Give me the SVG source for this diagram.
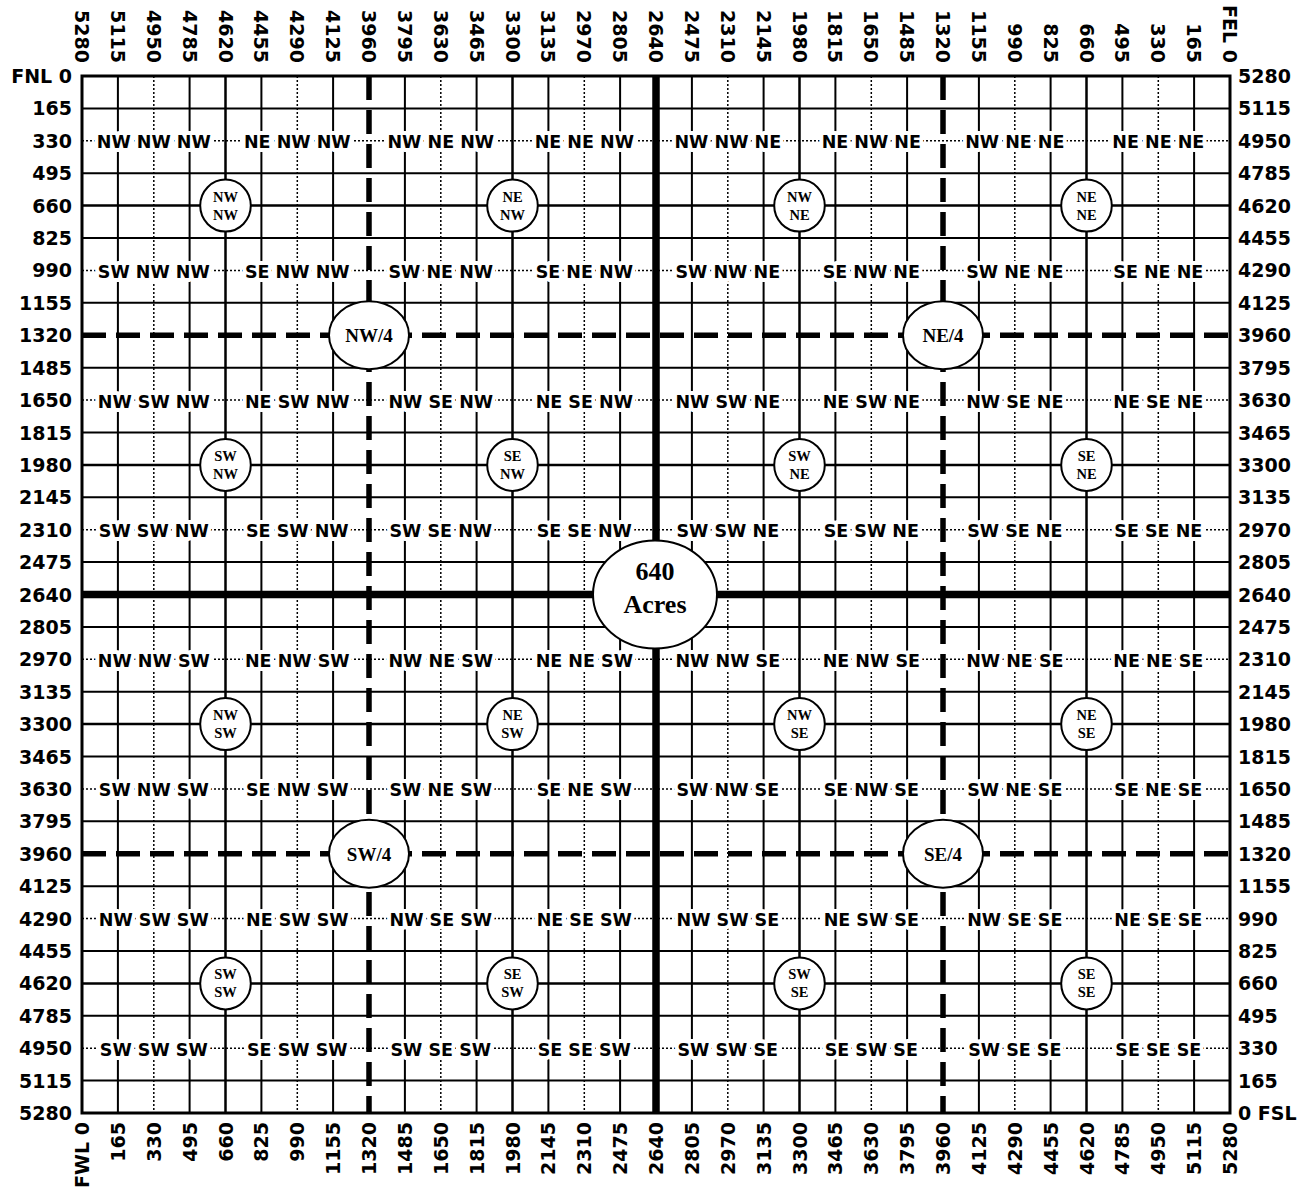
<svg xmlns="http://www.w3.org/2000/svg" width="1310" height="1193" viewBox="0 0 1310 1193">
<style>
.bg{fill:#fff}
.thin{stroke:#000;stroke-width:2;fill:none}
.dot{stroke:#000;stroke-width:1.5;stroke-dasharray:2 2;fill:none}
.qq{stroke:#000;stroke-width:2.5;fill:none}
.q{stroke:#000;stroke-width:5.5;stroke-dasharray:24 10;fill:none}
.c{stroke:#000;stroke-width:7.5;fill:none}
.border{stroke:#000;stroke-width:3;fill:none}
.ax{font-family:"DejaVu Sans",sans-serif;font-weight:bold;font-size:19px;fill:#000}
.top{text-anchor:end}
.bot{text-anchor:end}
.lft{text-anchor:end}
.rgt{text-anchor:start}
.lbl{font-family:"DejaVu Sans",sans-serif;font-weight:bold;font-size:17.5px;text-anchor:middle;fill:#000;stroke:#fff;stroke-width:8;stroke-linejoin:round;paint-order:stroke}
.node{fill:#fff;stroke:#000;stroke-width:2}
.nt{font-family:"Liberation Serif","Times New Roman",serif;font-weight:bold;font-size:14.5px;text-anchor:middle;fill:#000}
.qt{font-family:"Liberation Serif","Times New Roman",serif;font-weight:bold;font-size:19px;text-anchor:middle;fill:#000}
.ct{font-family:"Liberation Serif","Times New Roman",serif;font-weight:bold;font-size:26px;text-anchor:middle;fill:#000}
</style>
<rect class="bg" x="0" y="0" width="1310" height="1193"/>
<g id="grid">
<path class="thin" d="M117.9 76V1113M189.6 76V1113M261.4 76V1113M333.1 76V1113M404.9 76V1113M476.6 76V1113M548.4 76V1113M620.1 76V1113M691.9 76V1113M763.6 76V1113M835.4 76V1113M907.1 76V1113M978.9 76V1113M1050.6 76V1113M1122.4 76V1113M1194.1 76V1113"/>
<path class="thin" d="M82 108.4H1230M82 173.2H1230M82 238H1230M82 302.8H1230M82 367.7H1230M82 432.5H1230M82 497.3H1230M82 562.1H1230M82 626.9H1230M82 691.7H1230M82 756.5H1230M82 821.3H1230M82 886.2H1230M82 951H1230M82 1015.8H1230M82 1080.6H1230"/>
<path class="dot" d="M153.8 76V1113M297.3 76V1113M440.8 76V1113M584.3 76V1113M727.8 76V1113M871.3 76V1113M1014.8 76V1113M1158.3 76V1113"/>
<path class="dot" d="M82 140.8H1230M82 270.4H1230M82 400.1H1230M82 529.7H1230M82 659.3H1230M82 788.9H1230M82 918.6H1230M82 1048.2H1230"/>
<path class="qq" d="M225.5 76V1113M512.5 76V1113M799.5 76V1113M1086.5 76V1113M82 205.6H1230M82 464.9H1230M82 724.1H1230M82 983.4H1230"/>
<path class="q" d="M369 76V1113M943 76V1113M82 335.3H1230M82 853.8H1230"/>
<path class="c" d="M656 76V1113M82 594.5H1230"/>
<rect class="border" x="82" y="76" width="1148" height="1037"/>
</g>
<g id="top-labels" class="ax top">
<text transform="translate(75,63) rotate(90)">5280</text>
<text transform="translate(110.9,63) rotate(90)">5115</text>
<text transform="translate(146.8,63) rotate(90)">4950</text>
<text transform="translate(182.6,63) rotate(90)">4785</text>
<text transform="translate(218.5,63) rotate(90)">4620</text>
<text transform="translate(254.4,63) rotate(90)">4455</text>
<text transform="translate(290.3,63) rotate(90)">4290</text>
<text transform="translate(326.1,63) rotate(90)">4125</text>
<text transform="translate(362,63) rotate(90)">3960</text>
<text transform="translate(397.9,63) rotate(90)">3795</text>
<text transform="translate(433.8,63) rotate(90)">3630</text>
<text transform="translate(469.6,63) rotate(90)">3465</text>
<text transform="translate(505.5,63) rotate(90)">3300</text>
<text transform="translate(541.4,63) rotate(90)">3135</text>
<text transform="translate(577.3,63) rotate(90)">2970</text>
<text transform="translate(613.1,63) rotate(90)">2805</text>
<text transform="translate(649,63) rotate(90)">2640</text>
<text transform="translate(684.9,63) rotate(90)">2475</text>
<text transform="translate(720.8,63) rotate(90)">2310</text>
<text transform="translate(756.6,63) rotate(90)">2145</text>
<text transform="translate(792.5,63) rotate(90)">1980</text>
<text transform="translate(828.4,63) rotate(90)">1815</text>
<text transform="translate(864.3,63) rotate(90)">1650</text>
<text transform="translate(900.1,63) rotate(90)">1485</text>
<text transform="translate(936,63) rotate(90)">1320</text>
<text transform="translate(971.9,63) rotate(90)">1155</text>
<text transform="translate(1007.8,63) rotate(90)">990</text>
<text transform="translate(1043.6,63) rotate(90)">825</text>
<text transform="translate(1079.5,63) rotate(90)">660</text>
<text transform="translate(1115.4,63) rotate(90)">495</text>
<text transform="translate(1151.3,63) rotate(90)">330</text>
<text transform="translate(1187.1,63) rotate(90)">165</text>
<text transform="translate(1223,63) rotate(90)">FEL 0</text>
</g>
<g id="bottom-labels" class="ax bot">
<text transform="translate(89,1122) rotate(-90)">FWL 0</text>
<text transform="translate(124.9,1122) rotate(-90)">165</text>
<text transform="translate(160.8,1122) rotate(-90)">330</text>
<text transform="translate(196.6,1122) rotate(-90)">495</text>
<text transform="translate(232.5,1122) rotate(-90)">660</text>
<text transform="translate(268.4,1122) rotate(-90)">825</text>
<text transform="translate(304.3,1122) rotate(-90)">990</text>
<text transform="translate(340.1,1122) rotate(-90)">1155</text>
<text transform="translate(376,1122) rotate(-90)">1320</text>
<text transform="translate(411.9,1122) rotate(-90)">1485</text>
<text transform="translate(447.8,1122) rotate(-90)">1650</text>
<text transform="translate(483.6,1122) rotate(-90)">1815</text>
<text transform="translate(519.5,1122) rotate(-90)">1980</text>
<text transform="translate(555.4,1122) rotate(-90)">2145</text>
<text transform="translate(591.3,1122) rotate(-90)">2310</text>
<text transform="translate(627.1,1122) rotate(-90)">2475</text>
<text transform="translate(663,1122) rotate(-90)">2640</text>
<text transform="translate(698.9,1122) rotate(-90)">2805</text>
<text transform="translate(734.8,1122) rotate(-90)">2970</text>
<text transform="translate(770.6,1122) rotate(-90)">3135</text>
<text transform="translate(806.5,1122) rotate(-90)">3300</text>
<text transform="translate(842.4,1122) rotate(-90)">3465</text>
<text transform="translate(878.3,1122) rotate(-90)">3630</text>
<text transform="translate(914.1,1122) rotate(-90)">3795</text>
<text transform="translate(950,1122) rotate(-90)">3960</text>
<text transform="translate(985.9,1122) rotate(-90)">4125</text>
<text transform="translate(1021.8,1122) rotate(-90)">4290</text>
<text transform="translate(1057.6,1122) rotate(-90)">4455</text>
<text transform="translate(1093.5,1122) rotate(-90)">4620</text>
<text transform="translate(1129.4,1122) rotate(-90)">4785</text>
<text transform="translate(1165.3,1122) rotate(-90)">4950</text>
<text transform="translate(1201.1,1122) rotate(-90)">5115</text>
<text transform="translate(1237,1122) rotate(-90)">5280</text>
</g>
<g id="left-labels" class="ax lft">
<text x="72" y="83">FNL 0</text>
<text x="72" y="115.4">165</text>
<text x="72" y="147.8">330</text>
<text x="72" y="180.2">495</text>
<text x="72" y="212.6">660</text>
<text x="72" y="245">825</text>
<text x="72" y="277.4">990</text>
<text x="72" y="309.8">1155</text>
<text x="72" y="342.3">1320</text>
<text x="72" y="374.7">1485</text>
<text x="72" y="407.1">1650</text>
<text x="72" y="439.5">1815</text>
<text x="72" y="471.9">1980</text>
<text x="72" y="504.3">2145</text>
<text x="72" y="536.7">2310</text>
<text x="72" y="569.1">2475</text>
<text x="72" y="601.5">2640</text>
<text x="72" y="633.9">2805</text>
<text x="72" y="666.3">2970</text>
<text x="72" y="698.7">3135</text>
<text x="72" y="731.1">3300</text>
<text x="72" y="763.5">3465</text>
<text x="72" y="795.9">3630</text>
<text x="72" y="828.3">3795</text>
<text x="72" y="860.8">3960</text>
<text x="72" y="893.2">4125</text>
<text x="72" y="925.6">4290</text>
<text x="72" y="958">4455</text>
<text x="72" y="990.4">4620</text>
<text x="72" y="1022.8">4785</text>
<text x="72" y="1055.2">4950</text>
<text x="72" y="1087.6">5115</text>
<text x="72" y="1119.5">5280</text>
</g>
<g id="right-labels" class="ax rgt">
<text x="1238" y="83">5280</text>
<text x="1238" y="115.4">5115</text>
<text x="1238" y="147.8">4950</text>
<text x="1238" y="180.2">4785</text>
<text x="1238" y="212.6">4620</text>
<text x="1238" y="245">4455</text>
<text x="1238" y="277.4">4290</text>
<text x="1238" y="309.8">4125</text>
<text x="1238" y="342.3">3960</text>
<text x="1238" y="374.7">3795</text>
<text x="1238" y="407.1">3630</text>
<text x="1238" y="439.5">3465</text>
<text x="1238" y="471.9">3300</text>
<text x="1238" y="504.3">3135</text>
<text x="1238" y="536.7">2970</text>
<text x="1238" y="569.1">2805</text>
<text x="1238" y="601.5">2640</text>
<text x="1238" y="633.9">2475</text>
<text x="1238" y="666.3">2310</text>
<text x="1238" y="698.7">2145</text>
<text x="1238" y="731.1">1980</text>
<text x="1238" y="763.5">1815</text>
<text x="1238" y="795.9">1650</text>
<text x="1238" y="828.3">1485</text>
<text x="1238" y="860.8">1320</text>
<text x="1238" y="893.2">1155</text>
<text x="1238" y="925.6">990</text>
<text x="1238" y="958">825</text>
<text x="1238" y="990.4">660</text>
<text x="1238" y="1022.8">495</text>
<text x="1238" y="1055.2">330</text>
<text x="1238" y="1087.6">165</text>
<text x="1238" y="1119.5">0 FSL</text>
</g>
<g id="tract-labels" class="lbl">
<g transform="translate(0,148.3)"><text x="153.8">NW NW NW</text><text x="297.3">NE NW NW</text><text x="440.8">NW NE NW</text><text x="584.3">NE NE NW</text><text x="727.8">NW NW NE</text><text x="871.3">NE NW NE</text><text x="1014.8">NW NE NE</text><text x="1158.3">NE NE NE</text></g>
<g transform="translate(0,277.9)"><text x="153.8">SW NW NW</text><text x="297.3">SE NW NW</text><text x="440.8">SW NE NW</text><text x="584.3">SE NE NW</text><text x="727.8">SW NW NE</text><text x="871.3">SE NW NE</text><text x="1014.8">SW NE NE</text><text x="1158.3">SE NE NE</text></g>
<g transform="translate(0,407.6)"><text x="153.8">NW SW NW</text><text x="297.3">NE SW NW</text><text x="440.8">NW SE NW</text><text x="584.3">NE SE NW</text><text x="727.8">NW SW NE</text><text x="871.3">NE SW NE</text><text x="1014.8">NW SE NE</text><text x="1158.3">NE SE NE</text></g>
<g transform="translate(0,537.2)"><text x="153.8">SW SW NW</text><text x="297.3">SE SW NW</text><text x="440.8">SW SE NW</text><text x="584.3">SE SE NW</text><text x="727.8">SW SW NE</text><text x="871.3">SE SW NE</text><text x="1014.8">SW SE NE</text><text x="1158.3">SE SE NE</text></g>
<g transform="translate(0,666.8)"><text x="153.8">NW NW SW</text><text x="297.3">NE NW SW</text><text x="440.8">NW NE SW</text><text x="584.3">NE NE SW</text><text x="727.8">NW NW SE</text><text x="871.3">NE NW SE</text><text x="1014.8">NW NE SE</text><text x="1158.3">NE NE SE</text></g>
<g transform="translate(0,796.4)"><text x="153.8">SW NW SW</text><text x="297.3">SE NW SW</text><text x="440.8">SW NE SW</text><text x="584.3">SE NE SW</text><text x="727.8">SW NW SE</text><text x="871.3">SE NW SE</text><text x="1014.8">SW NE SE</text><text x="1158.3">SE NE SE</text></g>
<g transform="translate(0,926.1)"><text x="153.8">NW SW SW</text><text x="297.3">NE SW SW</text><text x="440.8">NW SE SW</text><text x="584.3">NE SE SW</text><text x="727.8">NW SW SE</text><text x="871.3">NE SW SE</text><text x="1014.8">NW SE SE</text><text x="1158.3">NE SE SE</text></g>
<g transform="translate(0,1055.7)"><text x="153.8">SW SW SW</text><text x="297.3">SE SW SW</text><text x="440.8">SW SE SW</text><text x="584.3">SE SE SW</text><text x="727.8">SW SW SE</text><text x="871.3">SE SW SE</text><text x="1014.8">SW SE SE</text><text x="1158.3">SE SE SE</text></g>
</g>
<g id="qq-nw-nw"><ellipse class="node" cx="225.5" cy="205.6" rx="25.3" ry="26"/><text class="nt" x="225.5" y="201.6">NW</text><text class="nt" x="225.5" y="219.6">NW</text></g>
<g id="qq-ne-nw"><ellipse class="node" cx="512.5" cy="205.6" rx="25.3" ry="26"/><text class="nt" x="512.5" y="201.6">NE</text><text class="nt" x="512.5" y="219.6">NW</text></g>
<g id="qq-nw-ne"><ellipse class="node" cx="799.5" cy="205.6" rx="25.3" ry="26"/><text class="nt" x="799.5" y="201.6">NW</text><text class="nt" x="799.5" y="219.6">NE</text></g>
<g id="qq-ne-ne"><ellipse class="node" cx="1086.5" cy="205.6" rx="25.3" ry="26"/><text class="nt" x="1086.5" y="201.6">NE</text><text class="nt" x="1086.5" y="219.6">NE</text></g>
<g id="qq-sw-nw"><ellipse class="node" cx="225.5" cy="464.9" rx="25.3" ry="26"/><text class="nt" x="225.5" y="460.9">SW</text><text class="nt" x="225.5" y="478.9">NW</text></g>
<g id="qq-se-nw"><ellipse class="node" cx="512.5" cy="464.9" rx="25.3" ry="26"/><text class="nt" x="512.5" y="460.9">SE</text><text class="nt" x="512.5" y="478.9">NW</text></g>
<g id="qq-sw-ne"><ellipse class="node" cx="799.5" cy="464.9" rx="25.3" ry="26"/><text class="nt" x="799.5" y="460.9">SW</text><text class="nt" x="799.5" y="478.9">NE</text></g>
<g id="qq-se-ne"><ellipse class="node" cx="1086.5" cy="464.9" rx="25.3" ry="26"/><text class="nt" x="1086.5" y="460.9">SE</text><text class="nt" x="1086.5" y="478.9">NE</text></g>
<g id="qq-nw-sw"><ellipse class="node" cx="225.5" cy="724.1" rx="25.3" ry="26"/><text class="nt" x="225.5" y="720.1">NW</text><text class="nt" x="225.5" y="738.1">SW</text></g>
<g id="qq-ne-sw"><ellipse class="node" cx="512.5" cy="724.1" rx="25.3" ry="26"/><text class="nt" x="512.5" y="720.1">NE</text><text class="nt" x="512.5" y="738.1">SW</text></g>
<g id="qq-nw-se"><ellipse class="node" cx="799.5" cy="724.1" rx="25.3" ry="26"/><text class="nt" x="799.5" y="720.1">NW</text><text class="nt" x="799.5" y="738.1">SE</text></g>
<g id="qq-ne-se"><ellipse class="node" cx="1086.5" cy="724.1" rx="25.3" ry="26"/><text class="nt" x="1086.5" y="720.1">NE</text><text class="nt" x="1086.5" y="738.1">SE</text></g>
<g id="qq-sw-sw"><ellipse class="node" cx="225.5" cy="983.4" rx="25.3" ry="26"/><text class="nt" x="225.5" y="979.4">SW</text><text class="nt" x="225.5" y="997.4">SW</text></g>
<g id="qq-se-sw"><ellipse class="node" cx="512.5" cy="983.4" rx="25.3" ry="26"/><text class="nt" x="512.5" y="979.4">SE</text><text class="nt" x="512.5" y="997.4">SW</text></g>
<g id="qq-sw-se"><ellipse class="node" cx="799.5" cy="983.4" rx="25.3" ry="26"/><text class="nt" x="799.5" y="979.4">SW</text><text class="nt" x="799.5" y="997.4">SE</text></g>
<g id="qq-se-se"><ellipse class="node" cx="1086.5" cy="983.4" rx="25.3" ry="26"/><text class="nt" x="1086.5" y="979.4">SE</text><text class="nt" x="1086.5" y="997.4">SE</text></g>
<g id="q-nw"><ellipse class="node" cx="369" cy="335.3" rx="40" ry="34"/><text class="qt" x="369" y="342">NW/4</text></g>
<g id="q-ne"><ellipse class="node" cx="943" cy="335.3" rx="40" ry="34"/><text class="qt" x="943" y="342">NE/4</text></g>
<g id="q-sw"><ellipse class="node" cx="369" cy="853.8" rx="40" ry="34"/><text class="qt" x="369" y="860.5">SW/4</text></g>
<g id="q-se"><ellipse class="node" cx="943" cy="853.8" rx="40" ry="34"/><text class="qt" x="943" y="860.5">SE/4</text></g>
<g id="section"><ellipse class="node" cx="655" cy="594.5" rx="62" ry="54"/><text class="ct" x="655" y="580">640</text><text class="ct" x="655" y="613">Acres</text></g>
</svg>
